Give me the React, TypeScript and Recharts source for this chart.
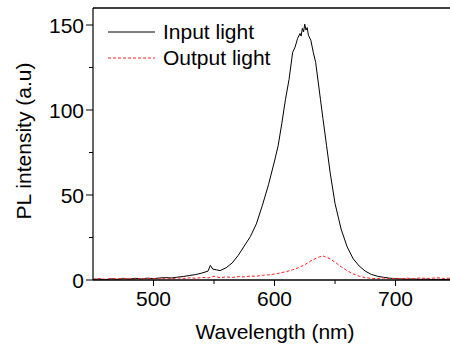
import { Label, Legend, Line, LineChart, ReferenceLine, XAxis, YAxis } from 'recharts';

const FONT = '"Liberation Sans", Arial, sans-serif';

// input light spectrum (wavelength nm / PL intensity)
const inputWavelengths = [
  450, 455, 460, 465, 470, 475, 480, 485, 490, 495, 500, 505, 510, 515, 520, 525, 530, 535, 540, 545,
  547, 549, 552, 555, 560, 565, 570, 575, 580, 585, 590, 595, 600, 603, 606, 609, 612, 615, 617, 619,
  621, 622, 623, 624, 625, 626, 627, 628, 630, 632, 634, 636, 638, 640, 643, 646, 650, 655, 660, 665,
  670, 675, 680, 685, 690, 695, 700, 705, 710, 715, 720, 725, 730, 735, 740, 745,
];
const inputIntensity = [
  0.3, 0.6, 0.2, 0.7, 0.4, 0.8, 0.5, 1.0, 0.6, 1.1, 0.8, 1.2, 1.4, 1.2, 1.7, 2.1, 2.7, 3.2, 4.1, 5.2,
  8.6, 6.4, 6.0, 5.5, 7.2, 10.0, 14.5, 20.0, 25.5, 33.0, 44.0, 56.0, 70.0, 79, 92, 106, 118, 134, 137, 142,
  145, 143.5, 148, 146, 150.5, 147, 148.5, 144, 141, 134, 128, 117, 106, 95, 79, 63, 45, 30, 19.5, 12.5,
  8.2, 5.2, 3.3, 2.2, 1.6, 1.1, 0.8, 0.6, 0.5, 0.6, 0.4, 0.5, 0.3, 0.4, 0.3, 0.4,
];

// output light spectrum
const outputWavelengths = [
  450, 455, 460, 465, 470, 475, 480, 485, 490, 495, 500, 505, 510, 515, 520, 525, 530, 535, 540, 545,
  550, 555, 560, 565, 570, 575, 580, 585, 590, 595, 600, 605, 610, 615, 620, 625, 630, 632, 635, 637,
  640, 642, 645, 650, 655, 660, 665, 670, 675, 680, 685, 690, 695, 700, 705, 710, 715, 720, 725, 730,
  735, 740, 745,
];
const outputIntensity = [
  0.5, 0.8, 0.4, 0.9, 0.6, 1.0, 0.7, 0.5, 1.0, 0.6, 0.9, 0.7, 1.1, 0.8, 1.2, 0.9, 1.3, 1.0, 1.5, 1.2,
  2.2, 1.4, 1.8, 1.5, 2.0, 1.8, 2.3, 2.2, 2.8, 3.0, 3.5, 4.2, 5.0, 6.0, 7.3, 9.0, 11.2, 12.0, 13.0, 13.6,
  14.2, 13.5, 12.8, 10.5, 7.8, 5.5, 3.6, 2.2, 1.4, 1.0, 0.8, 1.2, 0.7, 1.0, 0.8, 1.1, 0.7, 1.2, 0.9, 1.0,
  1.3, 0.9, 1.1,
];

const xTicks = [500, 550, 600, 650, 700];
const xMajor = [500, 600, 700];
const yTicks = [0, 25, 50, 75, 100, 125, 150];
const yMajor = [0, 50, 100, 150];

const inputData = inputWavelengths.map((wl, i) => ({ wl, value: inputIntensity[i] }));
const outputData = outputWavelengths.map((wl, i) => ({ wl, value: outputIntensity[i] }));

const XTick = ({ x, y, payload }: any) => {
  const major = xMajor.includes(payload.value);
  return (
    <g>
      <line x1={x} x2={x} y1={y} y2={y + (major ? 6 : 4)} stroke="#000" strokeWidth={1} />
      {major && (
        <text x={x} y={y + 26} textAnchor="middle" fontFamily={FONT} fontSize={21} fill="#000">
          {payload.value}
        </text>
      )}
    </g>
  );
};

const YTick = ({ x, y, payload }: any) => {
  const major = yMajor.includes(payload.value);
  return (
    <g>
      <line x1={x - (major ? 7 : 4)} x2={x} y1={y} y2={y} stroke="#000" strokeWidth={1} />
      {major && (
        <text x={x - 9} y={y} textAnchor="end" dominantBaseline="central" fontFamily={FONT} fontSize={21} fill="#000">
          {payload.value}
        </text>
      )}
    </g>
  );
};

const LegendBox = () => (
  <div style={{ fontFamily: FONT, fontSize: 21, lineHeight: '26px', color: '#000' }}>
    <div style={{ display: 'flex', alignItems: 'center', height: 26 }}>
      <svg width={55} height={26}>
        <line x1={0} x2={47} y1={13} y2={13} stroke="#000" strokeWidth={1} />
      </svg>
      <span>Input light</span>
    </div>
    <div style={{ display: 'flex', alignItems: 'center', height: 26 }}>
      <svg width={55} height={26}>
        <line x1={0} x2={47} y1={13} y2={13} stroke="#ff2020" strokeWidth={1} strokeDasharray="3 2" />
      </svg>
      <span>Output light</span>
    </div>
  </div>
);

export default function App() {
  return (
    <div style={{ position: 'absolute', left: 0, top: 0, background: '#fff' }}>
      <LineChart width={450} height={351} margin={{ top: 8, right: 0, bottom: 0, left: 0 }}>
        <XAxis
          dataKey="wl"
          type="number"
          domain={[450, 745]}
          ticks={xTicks}
          tick={<XTick />}
          tickSize={0}
          tickMargin={0}
          tickLine={false}
          axisLine={{ stroke: '#000', strokeWidth: 1.5 }}
          height={71}
          allowDataOverflow
        >
          <Label
            content={() => (
              <text x={275} y={339} textAnchor="middle" fontFamily={FONT} fontSize={21} fill="#000">
                Wavelength (nm)
              </text>
            )}
          />
        </XAxis>
        <YAxis
          type="number"
          domain={[0, 160]}
          ticks={yTicks}
          tick={<YTick />}
          tickSize={0}
          tickMargin={0}
          tickLine={false}
          axisLine={{ stroke: '#000', strokeWidth: 1.2 }}
          width={93}
          allowDataOverflow
        >
          <Label
            content={() => (
              <text
                x={31}
                y={141}
                transform="rotate(-90, 31, 141)"
                textAnchor="middle"
                fontFamily={FONT}
                fontSize={21}
                fill="#000"
              >
                PL intensity (a.u)
              </text>
            )}
          />
        </YAxis>
        <ReferenceLine y={160} stroke="#000" strokeWidth={1.5} />
        <Legend
          layout="vertical"
          align="center"
          verticalAlign="middle"
          content={<LegendBox />}
          wrapperStyle={{ left: 108, top: 19, width: 'auto' }}
        />
        <Line
          data={inputData}
          dataKey="value"
          name="Input light"
          type="linear"
          stroke="#000"
          strokeWidth={1}
          dot={false}
          isAnimationActive={false}
        />
        <Line
          data={outputData}
          dataKey="value"
          name="Output light"
          type="linear"
          stroke="#ff2020"
          strokeWidth={1}
          strokeDasharray="3 2"
          dot={false}
          isAnimationActive={false}
        />
      </LineChart>
    </div>
  );
}
